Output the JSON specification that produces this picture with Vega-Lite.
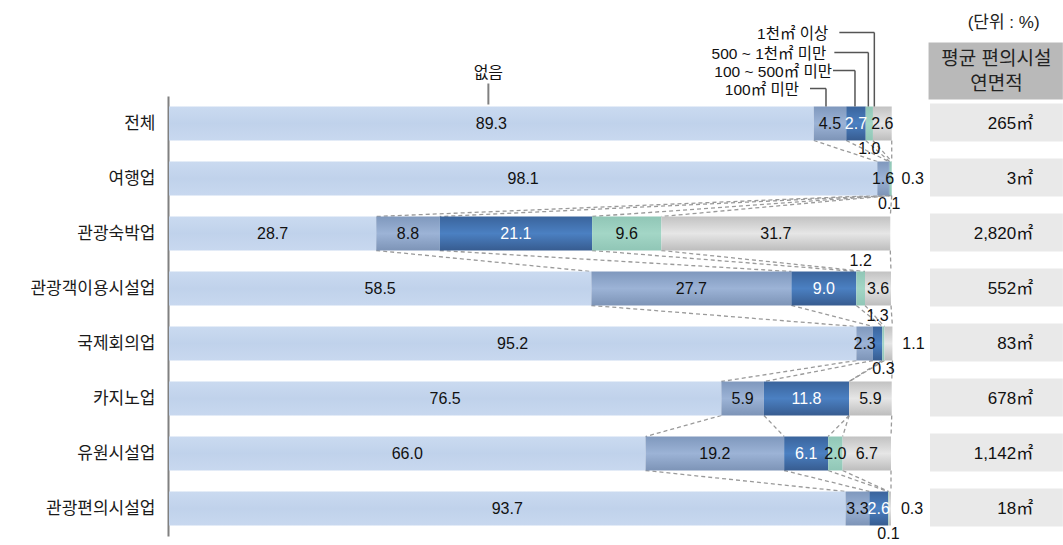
{
  "$schema": "https://vega.github.io/schema/vega-lite/v6.json",
  "width": 722,
  "height": 440,
  "autosize": "none",
  "padding": {"left": 169, "top": 96, "right": 172, "bottom": 9},
  "background": "white",
  "config": {
    "view": {"stroke": null},
    "font": "Liberation Sans, Noto Sans CJK KR",
    "text": {"font": "Liberation Sans, Noto Sans CJK KR", "fontSize": 16, "color": "#111"}
  },
  "datasets": {
    "d": [
      {"cat": "전체", "seg": "없음", "v": 89.3},
      {"cat": "전체", "seg": "100㎡ 미만", "v": 4.5},
      {"cat": "전체", "seg": "100 ~ 500㎡ 미만", "v": 2.7},
      {"cat": "전체", "seg": "500 ~ 1천㎡ 미만", "v": 1.0},
      {"cat": "전체", "seg": "1천㎡ 이상", "v": 2.6},
      {"cat": "여행업", "seg": "없음", "v": 98.1},
      {"cat": "여행업", "seg": "100㎡ 미만", "v": 1.6},
      {"cat": "여행업", "seg": "100 ~ 500㎡ 미만", "v": 0.1},
      {"cat": "여행업", "seg": "500 ~ 1천㎡ 미만", "v": 0.3},
      {"cat": "여행업", "seg": "1천㎡ 이상", "v": 0},
      {"cat": "관광숙박업", "seg": "없음", "v": 28.7},
      {"cat": "관광숙박업", "seg": "100㎡ 미만", "v": 8.8},
      {"cat": "관광숙박업", "seg": "100 ~ 500㎡ 미만", "v": 21.1},
      {"cat": "관광숙박업", "seg": "500 ~ 1천㎡ 미만", "v": 9.6},
      {"cat": "관광숙박업", "seg": "1천㎡ 이상", "v": 31.7},
      {"cat": "관광객이용시설업", "seg": "없음", "v": 58.5},
      {"cat": "관광객이용시설업", "seg": "100㎡ 미만", "v": 27.7},
      {"cat": "관광객이용시설업", "seg": "100 ~ 500㎡ 미만", "v": 9.0},
      {"cat": "관광객이용시설업", "seg": "500 ~ 1천㎡ 미만", "v": 1.2},
      {"cat": "관광객이용시설업", "seg": "1천㎡ 이상", "v": 3.6},
      {"cat": "국제회의업", "seg": "없음", "v": 95.2},
      {"cat": "국제회의업", "seg": "100㎡ 미만", "v": 2.3},
      {"cat": "국제회의업", "seg": "100 ~ 500㎡ 미만", "v": 1.3},
      {"cat": "국제회의업", "seg": "500 ~ 1천㎡ 미만", "v": 0.3},
      {"cat": "국제회의업", "seg": "1천㎡ 이상", "v": 1.1},
      {"cat": "카지노업", "seg": "없음", "v": 76.5},
      {"cat": "카지노업", "seg": "100㎡ 미만", "v": 5.9},
      {"cat": "카지노업", "seg": "100 ~ 500㎡ 미만", "v": 11.8},
      {"cat": "카지노업", "seg": "500 ~ 1천㎡ 미만", "v": 0},
      {"cat": "카지노업", "seg": "1천㎡ 이상", "v": 5.9},
      {"cat": "유원시설업", "seg": "없음", "v": 66.0},
      {"cat": "유원시설업", "seg": "100㎡ 미만", "v": 19.2},
      {"cat": "유원시설업", "seg": "100 ~ 500㎡ 미만", "v": 6.1},
      {"cat": "유원시설업", "seg": "500 ~ 1천㎡ 미만", "v": 2.0},
      {"cat": "유원시설업", "seg": "1천㎡ 이상", "v": 6.7},
      {"cat": "관광편의시설업", "seg": "없음", "v": 93.7},
      {"cat": "관광편의시설업", "seg": "100㎡ 미만", "v": 3.3},
      {"cat": "관광편의시설업", "seg": "100 ~ 500㎡ 미만", "v": 2.6},
      {"cat": "관광편의시설업", "seg": "500 ~ 1천㎡ 미만", "v": 0.1},
      {"cat": "관광편의시설업", "seg": "1천㎡ 이상", "v": 0.3}
    ],
    "t": [
      {"cat": "전체", "a": 265},
      {"cat": "여행업", "a": 3},
      {"cat": "관광숙박업", "a": 2820},
      {"cat": "관광객이용시설업", "a": 552},
      {"cat": "국제회의업", "a": 83},
      {"cat": "카지노업", "a": 678},
      {"cat": "유원시설업", "a": 1142},
      {"cat": "관광편의시설업", "a": 18}
    ]
  },
  "layer": [
    {
      "data": {"name": "d"},
      "transform": [
        {"stack": "v", "groupby": ["cat"], "as": ["s0", "s1"]},
        {"calculate": "(datum.s0 + datum.s1) / 2", "as": "xc"}
      ],
      "layer": [
        {
          "transform": [
            {"window": [{"op": "lead", "field": "s1", "as": "n1"}, {"op": "lead", "field": "cat", "as": "ncat"}], "groupby": ["seg"]},
            {"filter": "datum.ncat != null"}
          ],
          "mark": {"type": "rule", "color": "#9a9a9a", "strokeWidth": 1.3, "strokeDash": [4, 3]},
          "encoding": {
            "x": {"field": "s1", "type": "quantitative", "scale": {"domain": [0, 100], "nice": false}, "axis": null},
            "x2": {"field": "n1"},
            "y": {"field": "cat", "type": "nominal", "bandPosition": 1},
            "y2": {"field": "ncat", "bandPosition": 0}
          }
        },
        {
          "mark": {"type": "bar"},
          "encoding": {
            "x": {"field": "s0", "type": "quantitative", "scale": {"domain": [0, 100], "nice": false}, "axis": null},
            "x2": {"field": "s1"},
            "y": {
              "field": "cat", "type": "nominal", "title": null,
              "scale": {"domain": ["전체", "여행업", "관광숙박업", "관광객이용시설업", "국제회의업", "카지노업", "유원시설업", "관광편의시설업"], "paddingInner": 0.382, "paddingOuter": 0.191},
              "axis": {"domainColor": "#808080", "domainWidth": 2, "ticks": false, "labelFontSize": 17, "labelColor": "#1a1a1a", "labelPadding": 13, "offset": 1, "labelFont": "Noto Sans CJK KR"}
            },
            "color": {
              "condition": [
                {"test": "datum.seg === '없음'", "value": {"gradient": "linear", "x1": 0, "y1": 0, "x2": 0, "y2": 1, "stops": [{"offset": 0, "color": "#cadaf0"}, {"offset": 0.5, "color": "#c0d2eb"}, {"offset": 1, "color": "#c8d8ef"}]}},
                {"test": "datum.seg === '100㎡ 미만'", "value": {"gradient": "linear", "x1": 0, "y1": 0, "x2": 0, "y2": 1, "stops": [{"offset": 0, "color": "#7f98bd"}, {"offset": 0.5, "color": "#9cb3d6"}, {"offset": 1, "color": "#7d94b7"}]}},
                {"test": "datum.seg === '100 ~ 500㎡ 미만'", "value": {"gradient": "linear", "x1": 0, "y1": 0, "x2": 0, "y2": 1, "stops": [{"offset": 0, "color": "#3a649c"}, {"offset": 0.5, "color": "#4b80c2"}, {"offset": 1, "color": "#375c90"}]}},
                {"test": "datum.seg === '500 ~ 1천㎡ 미만'", "value": {"gradient": "linear", "x1": 0, "y1": 0, "x2": 0, "y2": 1, "stops": [{"offset": 0, "color": "#90c6b6"}, {"offset": 0.5, "color": "#a3d6c6"}, {"offset": 1, "color": "#90c6b6"}]}}
              ],
              "value": {"gradient": "linear", "x1": 0, "y1": 0, "x2": 0, "y2": 1, "stops": [{"offset": 0, "color": "#c2c2c2"}, {"offset": 0.5, "color": "#e6e6e6"}, {"offset": 1, "color": "#bdbdbd"}]}
            }
          }
        },
        {
          "transform": [{"filter": "datum.v >= 1.5"}],
          "mark": {"type": "text", "fontSize": 16},
          "encoding": {
            "x": {"field": "xc", "type": "quantitative"},
            "y": {"field": "cat", "type": "nominal"},
            "text": {"field": "v", "type": "quantitative", "format": ".1f"},
            "color": {"condition": {"test": "datum.seg === '100 ~ 500㎡ 미만'", "value": "white"}, "value": "#111111"}
          }
        },
        {
          "transform": [{"filter": "datum.v > 0 && datum.v < 1.5 && datum.s1 >= 99.9"}],
          "mark": {"type": "text", "fontSize": 16, "dx": 21},
          "encoding": {
            "x": {"field": "s1", "type": "quantitative"},
            "y": {"field": "cat", "type": "nominal"},
            "text": {"field": "v", "type": "quantitative", "format": ".1f"}
          }
        },
        {
          "transform": [{"filter": "datum.v >= 1.15 && datum.v < 1.5 && datum.s1 < 99.9"}],
          "mark": {"type": "text", "fontSize": 16, "dy": -11},
          "encoding": {
            "x": {"field": "xc", "type": "quantitative"},
            "y": {"field": "cat", "type": "nominal", "bandPosition": 0},
            "text": {"field": "v", "type": "quantitative", "format": ".1f"}
          }
        },
        {
          "transform": [{"filter": "datum.v > 0 && datum.v < 1.15 && datum.s1 < 99.9"}],
          "mark": {"type": "text", "fontSize": 16, "dy": 9},
          "encoding": {
            "x": {"field": "xc", "type": "quantitative"},
            "y": {"field": "cat", "type": "nominal", "bandPosition": 1},
            "text": {"field": "v", "type": "quantitative", "format": ".1f"}
          }
        },
        {
          "transform": [{"filter": "datum.cat === '전체' && datum.seg !== '없음'"}],
          "mark": {
            "type": "rule", "color": "#555555", "strokeWidth": 1.5,
            "xOffset": {"expr": "datum.seg === '100㎡ 미만' ? -4 : datum.seg === '1천㎡ 이상' ? -8 : -1"},
            "y2Offset": {"expr": "datum.seg === '100㎡ 미만' ? -18 : datum.seg === '100 ~ 500㎡ 미만' ? -36 : datum.seg === '500 ~ 1천㎡ 미만' ? -54 : -74"}
          },
          "encoding": {
            "x": {"field": "xc", "type": "quantitative"},
            "y": {"field": "cat", "type": "nominal", "bandPosition": 0},
            "y2": {"field": "cat", "bandPosition": 0}
          }
        },
        {
          "transform": [{"filter": "datum.cat === '전체' && datum.seg !== '없음'"}],
          "mark": {
            "type": "rule", "color": "#555555", "strokeWidth": 1.5,
            "xOffset": {"expr": "datum.seg === '100㎡ 미만' ? -4 : datum.seg === '1천㎡ 이상' ? -8 : -1"},
            "x2Offset": {"expr": "datum.seg === '100㎡ 미만' ? -20 : datum.seg === '100 ~ 500㎡ 미만' ? -23 : datum.seg === '500 ~ 1천㎡ 미만' ? -35 : -43"},
            "yOffset": {"expr": "datum.seg === '100㎡ 미만' ? -18 : datum.seg === '100 ~ 500㎡ 미만' ? -36 : datum.seg === '500 ~ 1천㎡ 미만' ? -54 : -74"}
          },
          "encoding": {
            "x": {"field": "xc", "type": "quantitative"},
            "x2": {"field": "xc"},
            "y": {"field": "cat", "type": "nominal", "bandPosition": 0}
          }
        },
        {
          "transform": [{"filter": "datum.cat === '전체' && datum.seg !== '없음'"}],
          "mark": {
            "type": "text", "fontSize": 15.5, "align": "right", "baseline": "middle",
            "font": "Liberation Sans, Noto Sans CJK KR",
            "xOffset": {"expr": "datum.seg === '100㎡ 미만' ? -31 : datum.seg === '100 ~ 500㎡ 미만' ? -24 : datum.seg === '500 ~ 1천㎡ 미만' ? -43 : -54"},
            "yOffset": {"expr": "datum.seg === '100㎡ 미만' ? -17 : datum.seg === '100 ~ 500㎡ 미만' ? -35 : datum.seg === '500 ~ 1천㎡ 미만' ? -53 : -73"}
          },
          "encoding": {
            "x": {"field": "xc", "type": "quantitative"},
            "y": {"field": "cat", "type": "nominal", "bandPosition": 0},
            "text": {"field": "seg"}
          }
        },
        {
          "transform": [{"filter": "datum.cat === '전체' && datum.seg === '없음'"}],
          "mark": {"type": "rule", "color": "#808080", "strokeWidth": 2, "xOffset": -3, "yOffset": -2, "y2Offset": -23},
          "encoding": {
            "x": {"field": "xc", "type": "quantitative"},
            "y": {"field": "cat", "type": "nominal", "bandPosition": 0},
            "y2": {"field": "cat", "bandPosition": 0}
          }
        },
        {
          "transform": [{"filter": "datum.cat === '전체' && datum.seg === '없음'"}],
          "mark": {"type": "text", "fontSize": 16, "xOffset": -3, "yOffset": -34},
          "encoding": {
            "x": {"field": "xc", "type": "quantitative"},
            "y": {"field": "cat", "type": "nominal", "bandPosition": 0},
            "text": {"field": "seg"}
          }
        }
      ]
    },
    {
      "data": {"name": "t"},
      "transform": [{"calculate": "format(datum.a, ',') + '㎡'", "as": "lab"}],
      "layer": [
        {
          "mark": {"type": "rect", "color": "#e9e9e9", "yOffset": -3, "y2Offset": 1},
          "encoding": {
            "x": {"datum": 105.4, "type": "quantitative"},
            "x2": {"datum": 123.8},
            "y": {"field": "cat", "type": "nominal", "bandPosition": 0},
            "y2": {"field": "cat", "bandPosition": 1}
          }
        },
        {
          "mark": {"type": "text", "fontSize": 17, "align": "right"},
          "encoding": {
            "x": {"datum": 119.7, "type": "quantitative"},
            "y": {"field": "cat", "type": "nominal"},
            "text": {"field": "lab"}
          }
        }
      ]
    },
    {
      "data": {"values": [{"unit": "(단위 : %)"}]},
      "layer": [
        {
          "mark": {"type": "rect", "color": "#b9b9b9", "yOffset": -64, "y2Offset": -7},
          "encoding": {
            "x": {"datum": 105.2, "type": "quantitative"},
            "x2": {"datum": 123.8},
            "y": {"datum": "전체", "type": "nominal", "bandPosition": 0},
            "y2": {"datum": "전체", "bandPosition": 0}
          }
        },
        {
          "mark": {"type": "text", "fontSize": 19, "lineHeight": 25, "yOffset": -48, "text": ["평균 편의시설", "연면적"], "color": "#222"},
          "encoding": {
            "x": {"datum": 114.6, "type": "quantitative"},
            "y": {"datum": "전체", "type": "nominal", "bandPosition": 0}
          }
        },
        {
          "mark": {"type": "text", "fontSize": 17, "yOffset": -84, "color": "#222"},
          "encoding": {
            "x": {"datum": 115.6, "type": "quantitative"},
            "y": {"datum": "전체", "type": "nominal", "bandPosition": 0},
            "text": {"field": "unit"}
          }
        }
      ]
    }
  ]
}
